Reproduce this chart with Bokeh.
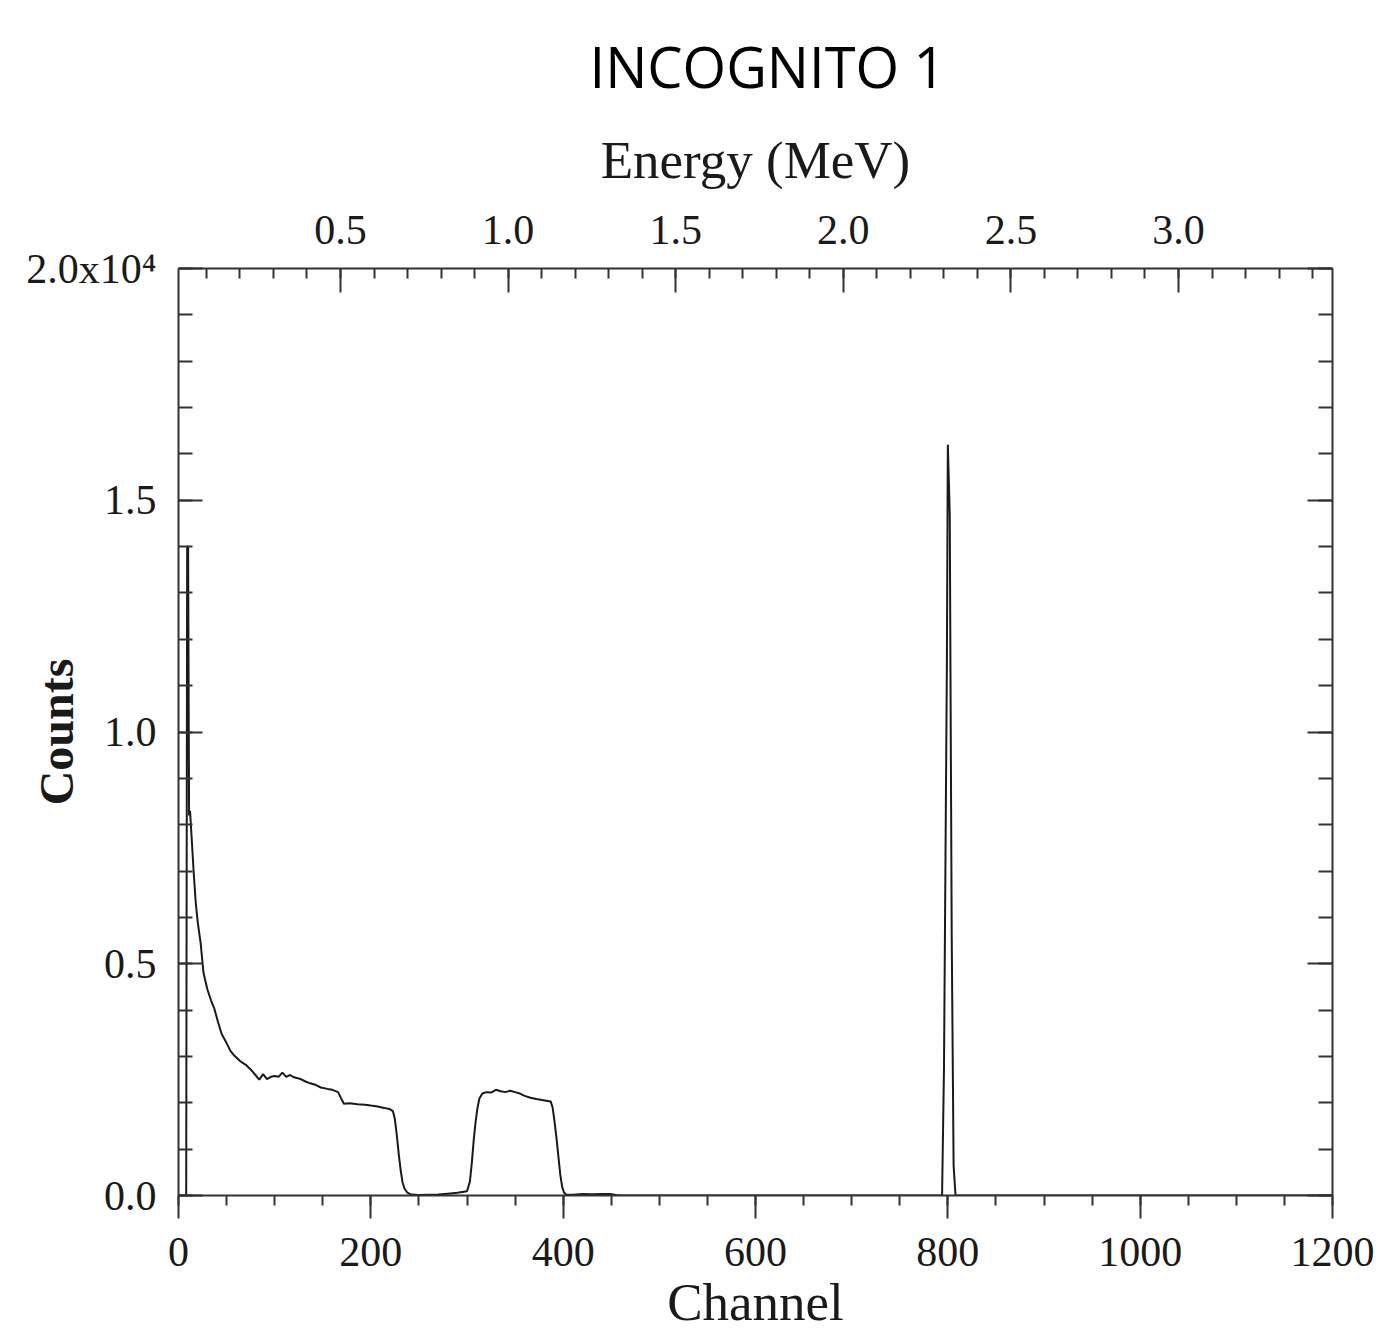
from bokeh.plotting import figure
from bokeh.models import LinearAxis, Range1d, FixedTicker, Title
from bokeh.embed import file_html
from bokeh.resources import INLINE

# ---- data ----
channel = [0, 8, 9, 10, 11, 12, 14, 16, 18, 20, 23, 26, 30, 34, 37, 41, 45, 49, 54, 58,
           64, 70, 75, 80, 84, 88, 92, 96, 100, 104, 108, 112, 116, 120, 126, 132, 137,
           142, 148, 155, 160, 166, 169, 172, 178, 186, 194, 200, 207, 214, 220, 223,
           225, 227, 229, 231, 233, 235, 238, 242, 250, 260, 270, 280, 290, 300, 303,
           305, 307, 309, 311, 313, 316, 320, 325, 330, 335, 340, 345, 350, 355, 360,
           366, 372, 378, 384, 387, 389, 391, 393, 395, 397, 399, 401, 403, 410, 420,
           430, 440, 450, 455, 460, 794, 796, 799, 800, 802, 804, 806, 808, 1200]
counts = [0, 0, 14000, 14000, 8200, 8300, 7600, 6900, 6300, 5900, 5450, 4800, 4450, 4200,
          4050, 3750, 3480, 3330, 3120, 3020, 2900, 2820, 2720, 2600, 2500, 2620, 2510,
          2560, 2580, 2560, 2650, 2560, 2600, 2550, 2520, 2460, 2420, 2390, 2330, 2300,
          2280, 2230, 2100, 1980, 1990, 1970, 1960, 1940, 1920, 1890, 1860, 1820, 1650,
          1300, 900, 550, 280, 150, 60, 20, 10, 15, 20, 40, 60, 90, 300, 700, 1200, 1600,
          1900, 2100, 2200, 2230, 2220, 2280, 2250, 2230, 2260, 2230, 2200, 2150, 2110,
          2080, 2060, 2040, 2030, 1900, 1600, 1250, 850, 450, 180, 60, 20, 15, 30, 25, 30,
          30, 10, 0, 0, 2750, 11450, 16200, 14700, 5700, 650, 0, 0]

channel_ticks = [0, 200, 400, 600, 800, 1000, 1200]
count_ticks = [0, 5000, 10000, 15000, 20000]
count_labels = ["0.0", "0.5", "1.0", "1.5", "2.0x10\u2074"]
energy_ticks = [0.5, 1.0, 1.5, 2.0, 2.5, 3.0]
energy_labels = ["0.5", "1.0", "1.5", "2.0", "2.5", "3.0"]

SERIF = "Liberation Serif"
INK = "#1a1a1a"
AX = "#333333"

p = figure(frame_width=1154, frame_height=927,
           x_range=Range1d(0, 1200), y_range=Range1d(0, 20000),
           min_border_left=178, min_border_right=48, min_border_top=268, min_border_bottom=136,
           output_backend="svg", toolbar_location=None, background_fill_color="white")
p.xgrid.visible = False
p.ygrid.visible = False
p.outline_line_color = None
p.extra_x_ranges = {"energy": Range1d(0.0167, 3.4594)}

def style(ax, tick_in, tick_out, minor_in, minor_out):
    ax.axis_line_color = AX
    ax.axis_line_width = 2
    ax.major_tick_line_color = AX
    ax.major_tick_line_width = 2
    ax.minor_tick_line_color = AX
    ax.minor_tick_line_width = 2
    ax.major_tick_in = tick_in
    ax.major_tick_out = tick_out
    ax.minor_tick_in = minor_in
    ax.minor_tick_out = minor_out
    ax.major_label_text_font = SERIF
    ax.major_label_text_font_size = "42px"
    ax.major_label_text_color = INK
    ax.axis_label_text_font = SERIF
    ax.axis_label_text_font_size = "53px"
    ax.axis_label_text_font_style = "normal"
    ax.axis_label_text_color = INK

# bottom axis
xb = p.xaxis[0]
xb.ticker = FixedTicker(ticks=channel_ticks, minor_ticks=list(range(0, 1201, 50)))
style(xb, 0, 23, 0, 10)
xb.major_label_standoff = 19
xb.axis_label = "Channel"
xb.axis_label_standoff = 4

# left axis
yl = p.yaxis[0]
yl.ticker = FixedTicker(ticks=count_ticks, minor_ticks=list(range(0, 20001, 1000)))
style(yl, 24, 0, 14, 0)
yl.major_label_overrides = {t: s for t, s in zip(count_ticks, count_labels)}
yl.major_label_standoff = 22
yl.axis_label = "Counts"
yl.axis_label_text_font_size = "48px"
yl.axis_label_text_font_style = "bold"
yl.axis_label_standoff = -60

# right axis (ticks only)
yr = LinearAxis(ticker=FixedTicker(ticks=count_ticks, minor_ticks=list(range(0, 20001, 1000))))
style(yr, 25, 0, 14, 0)
yr.major_label_overrides = {t: "" for t in count_ticks}
yr.major_label_standoff = 0
p.add_layout(yr, "right")

# top axis (energy)
xt = LinearAxis(x_range_name="energy",
                ticker=FixedTicker(ticks=energy_ticks,
                                   minor_ticks=[round(0.1 * i, 1) for i in range(1, 35)]))
style(xt, 24, 0, 10, 0)
xt.major_label_overrides = {t: s for t, s in zip(energy_ticks, energy_labels)}
xt.major_label_standoff = 25
xt.axis_label = "Energy (MeV)"
xt.axis_label_standoff = 24
p.add_layout(xt, "above")

p.add_layout(Title(text="INCOGNITO 1", align="left", offset=411, standoff=48,
                   text_font="Open Sans", text_font_size="56px",
                   text_font_style="normal", text_color="#000000"), "above")

p.line(channel, counts, line_color=INK, line_width=2)

open("out.html", "w").write(file_html(p, INLINE))
